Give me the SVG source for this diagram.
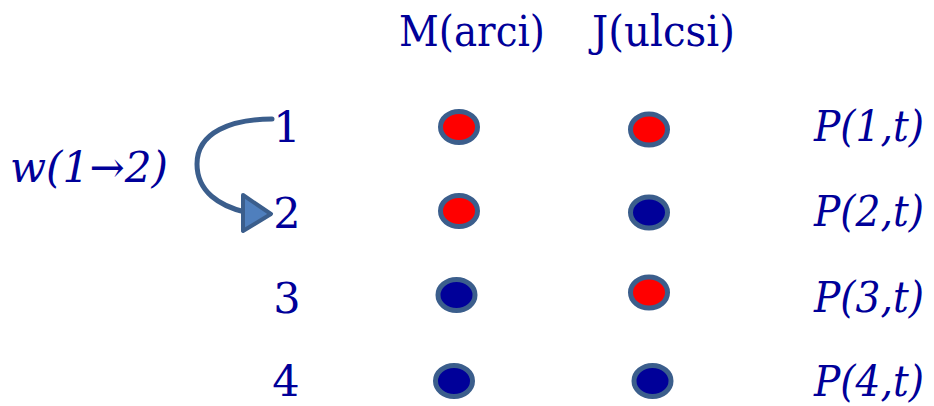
<svg xmlns="http://www.w3.org/2000/svg" width="934" height="406" viewBox="0 0 934 406">
<defs>
<style>
.t{fill:#000099;font-size:43px;font-family:'DejaVu Serif','Liberation Serif',serif}
.i{font-style:italic}
.n{text-anchor:middle}
.dot{stroke:#3b5e8c;stroke-width:5}
.red{fill:#ff0000}
.blue{fill:#000099}
.conn{fill:none;stroke:#3b5e8c;stroke-width:5;stroke-linecap:round}
.head{fill:#4f7fbd;stroke:#3b5e8c;stroke-width:4;stroke-linejoin:round}
</style>
</defs>
<rect width="934" height="406" fill="#ffffff"/>
<g id="headers">
<text class="t" x="399" y="46" textLength="146" lengthAdjust="spacingAndGlyphs">M(arci)</text>
<text class="t" x="592" y="46" textLength="143" lengthAdjust="spacingAndGlyphs">J(ulcsi)</text>
</g>
<g id="label-w"><text class="t i" x="10" y="182" textLength="158" lengthAdjust="spacingAndGlyphs">w(1→2)</text></g>
<g id="row1">
<text class="t n" x="287" y="142">1</text>
<ellipse class="dot red" cx="459" cy="127" rx="18.5" ry="15.5"/>
<ellipse class="dot red" cx="649" cy="129.5" rx="18.5" ry="15.5"/>
<text class="t i" x="814" y="141" textLength="110" lengthAdjust="spacingAndGlyphs">P(1,t)</text>
</g>
<g id="row2">
<text class="t n" x="287" y="228">2</text>
<ellipse class="dot red" cx="459" cy="211" rx="18.5" ry="15.5"/>
<ellipse class="dot blue" cx="649" cy="212.5" rx="18.5" ry="15.5"/>
<text class="t i" x="814" y="226" textLength="110" lengthAdjust="spacingAndGlyphs">P(2,t)</text>
</g>
<g id="row3">
<text class="t n" x="287" y="313">3</text>
<ellipse class="dot blue" cx="456.5" cy="295" rx="18.5" ry="15.5"/>
<ellipse class="dot red" cx="649" cy="292.5" rx="18.5" ry="15.5"/>
<text class="t i" x="814" y="312" textLength="110" lengthAdjust="spacingAndGlyphs">P(3,t)</text>
</g>
<g id="row4">
<text class="t n" x="286" y="396">4</text>
<ellipse class="dot blue" cx="454" cy="381" rx="18.5" ry="15.5"/>
<ellipse class="dot blue" cx="652.5" cy="381" rx="18.5" ry="15.5"/>
<text class="t i" x="814" y="396" textLength="110" lengthAdjust="spacingAndGlyphs">P(4,t)</text>
</g>
<g id="connectors">
<path class="conn" d="M272,119 C232,119 197,132 197,164 C197,192 220,206 245,212"/>
<polygon class="head" points="243,195 271,214 243,231"/>
</g>
</svg>
